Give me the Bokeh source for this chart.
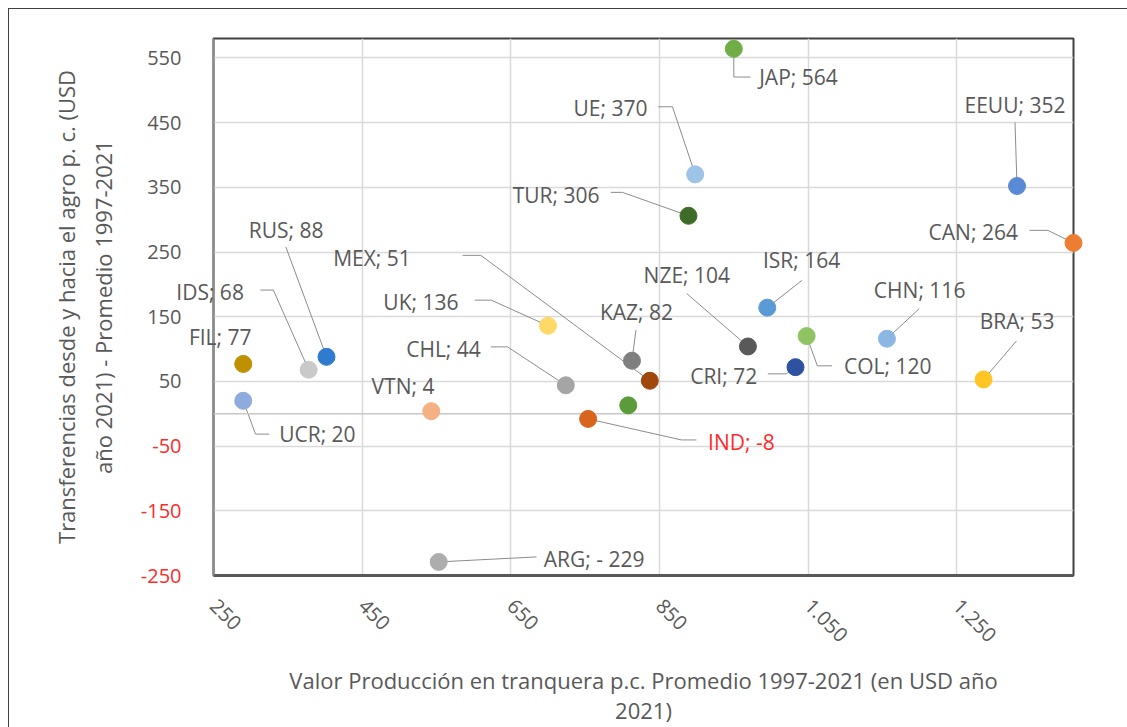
from bokeh.plotting import figure
from bokeh.models import Range1d, FixedTicker, ColumnDataSource, Span
from bokeh.core.properties import value
from bokeh.embed import file_html
from bokeh.resources import INLINE

# ---------------- data ----------------
countries = ["JAP", "UE", "EEUU", "TUR", "CAN", "ISR", "CHN", "COL", "CRI", "NZE", "KAZ",
             "MEX", "BRA", "IND", "UK", "CHL", "VTN", "ARG", "RUS", "IDS", "FIL", "UCR", ""]
valor_produccion = [950, 898, 1331, 889, 1407, 995, 1156, 1048, 1033, 969, 813,
                    837, 1286, 754, 700, 724, 543, 553, 402, 378, 290, 290, 808]
transferencias = [564, 370, 352, 306, 264, 164, 116, 120, 72, 104, 82,
                  51, 53, -8, 136, 44, 4, -229, 88, 68, 77, 20, 13]
etiquetas = ["JAP; 564", "UE; 370", "EEUU; 352", "TUR; 306", "CAN; 264", "ISR; 164",
             "CHN; 116", "COL; 120", "CRI; 72", "NZE; 104", "KAZ; 82", "MEX; 51",
             "BRA; 53", "IND; -8", "UK;  136", "CHL; 44", "VTN; 4", "ARG; - 229",
             "RUS; 88", "IDS;  68", "FIL; 77", "UCR; 20", ""]
x_ticks = [250, 450, 650, 850, 1050, 1250]
x_tick_labels = ["250", "450", "650", "850", "1.050", "1.250"]
y_ticks = [-250, -150, -50, 50, 150, 250, 350, 450, 550]
y_tick_labels = ["-250", "-150", "-50", "50", "150", "250", "350", "450", "550"]

# ---------------- styles / layout ----------------
colors = ["#70AD47", "#9DC3E6", "#5A8AD6", "#3F6B28", "#ED7D31", "#5B9BD5", "#8DB7E3",
          "#8FC462", "#2F52A0", "#595959", "#7F7F7F", "#9E480E", "#FFC524", "#D8651C",
          "#FFD966", "#A5A5A5", "#F4B183", "#ADADAD", "#2E7BCF", "#C9C9C9", "#BF9000",
          "#8FAADC", "#5B9B3A"]
text_colors = ["#595959"] * len(countries)
text_colors[countries.index("IND")] = "#FF2A2A"

# (align, dx_px, dy_px (down), leader path in px relative to the dot)
label_layout = [
    ("left", 25.4, 28.5, [(0, 0), (0, 28.2), (16.7, 28.2)]),
    ("right", -47.7, -66.3, [(0, 0), (-22.7, -67.6), (-37, -67.6)]),
    ("center", -2, -81, [(0, 0), (-2, -63.7)]),
    ("right", -89, -20.7, [(0, 0), (-66, -23.4), (-77.7, -23.4)]),
    ("right", -55.6, -10.6, [(0, 0), (-25.6, -12.6), (-44, -12.6)]),
    ("center", 34.3, -47.3, [(0, 0), (34.7, -27.3)]),
    ("center", 32.7, -48.3, [(0, 0), (32.3, -30)]),
    ("left", 37.4, 30, [(0, 0), (10.7, 29.7), (25.4, 29.7)]),
    ("right", -38.3, 8.4, [(0, 0), (-9.3, 6.7), (-27.6, 6.7)]),
    ("center", -61.1, -71.3, [(0, 0), (-61.3, -53)]),
    ("center", 4.5, -48.3, [(0, 0), (4, -30.6)]),
    ("center", -277.8, -122.7, [(0, 0), (-169, -125.4), (-187.3, -125.4)]),
    ("center", 33.6, -58, [(0, 0), (33, -38.6)]),
    ("left", 120, 23.3, [(0, 0), (93.3, 21), (108.3, 21)]),
    ("right", -84, -24, [(0, 0), (-56.7, -25.6), (-73.4, -25.6)]),
    ("right", -85, -36.7, [(0, 0), (-58.3, -38.4), (-75, -38.4)]),
    ("center", -28.3, -25.6, []),
    ("left", 105, -3.3, [(0, 0), (97.8, -5)]),
    ("center", -40.3, -127.3, [(0, 0), (-40.7, -110)]),
    ("right", -59.3, -78, [(0, 0), (-35.3, -79.7), (-48.3, -79.7)]),
    ("center", -23, -27, []),
    ("left", 35.9, 33.3, [(0, 0), (12.3, 33.3), (25.9, 33.3)]),
    (None, 0, 0, []),
]

X0, X1 = 250, 1407
Y0, Y1 = -250, 580
FW, FH = 860, 537
SX = FW / (X1 - X0)
SY = FH / (Y1 - Y0)
FONT = "Open Sans"
GRAY = "#595959"

p = figure(frame_width=FW, frame_height=FH,
           min_border_left=204, min_border_right=54, min_border_top=29, min_border_bottom=145,
           x_range=Range1d(X0, X1), y_range=Range1d(Y0, Y1),
           output_backend="svg", toolbar_location=None)
p.styles = {"margin-left": "8px", "margin-top": "8px",
            "border-top": "1px solid #404040", "border-left": "1px solid #404040"}
p.background_fill_color = "white"
p.border_fill_color = "white"
p.outline_line_color = "#404040"
p.outline_line_width = 2

# axes
p.xaxis.ticker = FixedTicker(ticks=x_ticks)
p.xaxis.major_label_overrides = {t: l for t, l in zip(x_ticks, x_tick_labels)}
p.xaxis.major_label_orientation = -0.785
p.xaxis.major_label_standoff = 27
p.xaxis.axis_line_color = GRAY
p.xaxis.axis_line_width = 3
p.xaxis.axis_label = "Valor Producción en tranquera p.c. Promedio 1997-2021 (en USD año\n2021)"
p.xaxis.axis_label_standoff = 14
p.xaxis.axis_label_text_line_height = 1.0

p.yaxis.ticker = FixedTicker(ticks=y_ticks)
p.yaxis.major_label_overrides = {t: (l if t > 0 else "") for t, l in zip(y_ticks, y_tick_labels)}
p.yaxis.major_label_standoff = 32
p.yaxis.axis_line_color = "#8C8C8C"
p.yaxis.axis_line_width = 2
p.yaxis.axis_label = "Transferencias desde y hacia el agro p. c. (USD\naño 2021) - Promedio 1997-2021"
p.yaxis.axis_label_standoff = 26
p.yaxis.axis_label_text_line_height = 1.25

for ax in (p.xaxis[0], p.yaxis[0]):
    ax.major_tick_out = 0
    ax.major_tick_in = 0
    ax.minor_tick_out = 0
    ax.minor_tick_in = 0
    ax.major_label_text_font = FONT
    ax.major_label_text_font_size = "20px"
    ax.major_label_text_color = GRAY
    ax.axis_label_text_font = FONT
    ax.axis_label_text_font_size = "22px"
    ax.axis_label_text_font_style = "normal"
    ax.axis_label_text_color = GRAY

# grid
p.xgrid.ticker = FixedTicker(ticks=x_ticks)
p.ygrid.ticker = FixedTicker(ticks=y_ticks)
p.grid.grid_line_color = "#D9D9D9"
p.grid.grid_line_width = 1.5
p.add_layout(Span(location=0, dimension="width", line_color="#C8C8C8", line_width=1.5))

# negative y tick labels in red
neg = [(t, l) for t, l in zip(y_ticks, y_tick_labels) if t < 0]
p.text(x=[X0 - 32 / SX] * len(neg), y=[t for t, _ in neg], text=[l for _, l in neg],
       text_align="right", text_baseline="middle", text_font=value(FONT),
       text_font_size="20px", text_color="#FF2A2A", level="overlay")

# leader lines
xs, ys = [], []
for xv, yv, lay in zip(valor_produccion, transferencias, label_layout):
    path = lay[3]
    if path:
        xs.append([xv + dx / SX for dx, dy in path])
        ys.append([yv - dy / SY for dx, dy in path])
p.multi_line(xs, ys, line_color="#8C8C8C", line_width=1)

# points
src = ColumnDataSource(dict(x=valor_produccion, y=transferencias, c=colors, pais=countries))
p.scatter("x", "y", source=src, size=17, fill_color="c", line_color="c", level="overlay")

# data labels
for align in ("left", "right", "center"):
    d = dict(x=[], y=[], t=[], c=[])
    for xv, yv, lab, tc, lay in zip(valor_produccion, transferencias, etiquetas, text_colors, label_layout):
        if lay[0] == align and lab:
            d["x"].append(xv + lay[1] / SX)
            d["y"].append(yv - lay[2] / SY)
            d["t"].append(lab)
            d["c"].append(tc)
    p.text(x="x", y="y", text="t", source=ColumnDataSource(d), text_align=align,
           text_baseline="middle", text_font=value(FONT), text_font_size="21px",
           text_color="c", level="overlay")

open("out.html", "w").write(file_html(p, INLINE))
